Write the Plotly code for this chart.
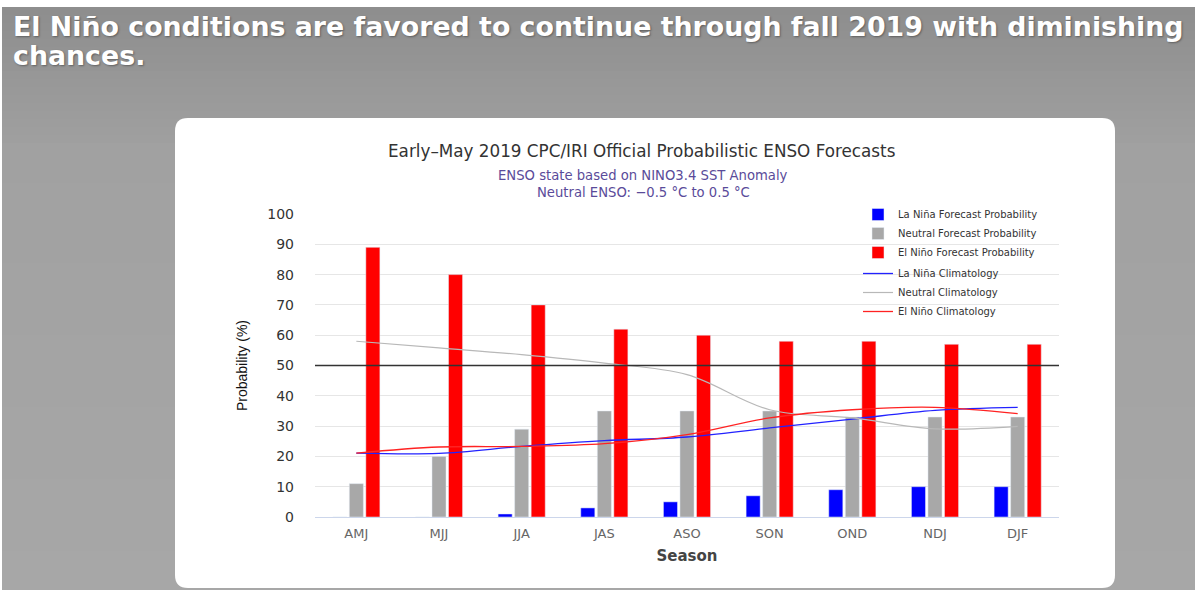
import plotly.graph_objects as go

# ---------------- data ----------------
seasons = ["AMJ", "MJJ", "JJA", "JAS", "ASO", "SON", "OND", "NDJ", "DJF"]
la_nina_prob = [0, 0, 1, 3, 5, 7, 9, 10, 10]
neutral_prob = [11, 20, 29, 35, 35, 35, 33, 33, 33]
el_nino_prob = [89, 80, 70, 62, 60, 58, 58, 57, 57]
la_nina_clim = [21.1, 21.0, 23.3, 25.2, 26.4, 29.4, 32.3, 35.2, 36.2]
neutral_clim = [58.0, 55.8, 53.6, 50.8, 47.0, 35.4, 32.7, 29.1, 29.9]
el_nino_clim = [21.1, 23.1, 23.3, 24.2, 27.2, 32.7, 35.4, 36.2, 34.1]
y_ticks = [0, 10, 20, 30, 40, 50, 60, 70, 80, 90, 100]
threshold = 50

# ---------------- geometry helpers (pixels -> paper) ----------------
W, H = 1195, 590
L, R, T, B = 315, 1059, 214, 517   # plot area in pixels


def px(x):
    return (x - L) / (R - L)


def py(y):
    return (B - y) / (B - T)


fig = go.Figure()

fig.add_trace(go.Bar(x=seasons, y=la_nina_prob, name="La Niña Forecast Probability",
                     marker_color="#0000ff", legendgroup="bars"))
fig.add_trace(go.Bar(x=seasons, y=neutral_prob, name="Neutral Forecast Probability",
                     marker_color="#a8a8a8", legendgroup="bars"))
fig.add_trace(go.Bar(x=seasons, y=el_nino_prob, name="El Niño Forecast Probability",
                     marker_color="#ff0000", legendgroup="bars"))
fig.add_trace(go.Scatter(x=seasons, y=la_nina_clim, name="La Niña Climatology", mode="lines",
                         line=dict(color="#2222ff", width=1.3, shape="spline"), legendgroup="lines"))
fig.add_trace(go.Scatter(x=seasons, y=neutral_clim, name="Neutral Climatology", mode="lines",
                         line=dict(color="#b8b8b8", width=1.2, shape="spline"), legendgroup="lines"))
fig.add_trace(go.Scatter(x=seasons, y=el_nino_clim, name="El Niño Climatology", mode="lines",
                         line=dict(color="#ff2222", width=1.3, shape="spline"), legendgroup="lines"))

shapes = []
# background gradient bands
def lerp(a, b, t):
    return a + (b - a) * t

stops = [(7, 141), (150, 161), (590, 167)]
y0 = 7
step = 8
while y0 < H:
    y1 = min(y0 + step, H)
    ym = (y0 + y1) / 2
    if ym <= stops[1][0]:
        t = (ym - stops[0][0]) / (stops[1][0] - stops[0][0])
        v = lerp(stops[0][1], stops[1][1], t)
    else:
        t = (ym - stops[1][0]) / (stops[2][0] - stops[1][0])
        v = lerp(stops[1][1], stops[2][1], t)
    v = int(round(v))
    shapes.append(dict(type="rect", xref="paper", yref="paper", layer="below",
                       x0=px(2), x1=px(W + 2), y0=py(y0), y1=py(y1 + 0.5),
                       line=dict(width=0), fillcolor=f"rgb({v},{v},{v})"))
    y0 = y1

# white rounded panel
x0p, x1p, y0p, y1p, r = 175, 1115, 118, 588, 13
path = (
    f"M {px(x0p + r)},{py(y0p)} L {px(x1p - r)},{py(y0p)} "
    f"Q {px(x1p)},{py(y0p)} {px(x1p)},{py(y0p + r)} "
    f"L {px(x1p)},{py(y1p - r)} Q {px(x1p)},{py(y1p)} {px(x1p - r)},{py(y1p)} "
    f"L {px(x0p + r)},{py(y1p)} Q {px(x0p)},{py(y1p)} {px(x0p)},{py(y1p - r)} "
    f"L {px(x0p)},{py(y0p + r)} Q {px(x0p)},{py(y0p)} {px(x0p + r)},{py(y0p)} Z"
)
shapes.append(dict(type="path", path=path, xref="paper", yref="paper", layer="below",
                   fillcolor="white", line=dict(width=0)))

# 50% reference line
shapes.append(dict(type="line", xref="paper", yref="y", x0=0, x1=1, y0=threshold, y1=threshold,
                   line=dict(color="#333333", width=1.5)))

head_font = dict(family="DejaVu Sans", size=26.8, color="white", weight="bold",
                 shadow="1px 1px 2px rgba(0,0,0,0.35)")
annotations = [
    dict(text="El Niño conditions are favored to continue through fall 2019 with diminishing",
         xref="paper", yref="paper", x=px(11), y=py(26), xanchor="left", yanchor="middle",
         showarrow=False, font=head_font),
    dict(text="chances.",
         xref="paper", yref="paper", x=px(11), y=py(55), xanchor="left", yanchor="middle",
         showarrow=False, font=head_font),
    dict(text="Early–May 2019 CPC/IRI Official Probabilistic ENSO Forecasts",
         xref="paper", yref="paper", x=px(641), y=py(151), xanchor="center", yanchor="middle",
         showarrow=False, font=dict(family="DejaVu Sans", size=16.8, color="#333333")),
    dict(text="ENSO state based on NINO3.4 SST Anomaly",
         xref="paper", yref="paper", x=px(643), y=py(175), xanchor="center", yanchor="middle",
         showarrow=False, font=dict(family="DejaVu Sans", size=13.2, color="#5a4b9a")),
    dict(text="Neutral ENSO: −0.5 °C to 0.5 °C",
         xref="paper", yref="paper", x=px(643), y=py(192), xanchor="center", yanchor="middle",
         showarrow=False, font=dict(family="DejaVu Sans", size=13.2, color="#5a4b9a")),
]

fig.update_layout(
    width=W, height=H,
    margin=dict(l=L, r=W - R, t=T, b=H - B, pad=0),
    paper_bgcolor="white", plot_bgcolor="rgba(0,0,0,0)",
    barmode="group", bargap=0.40, bargroupgap=0.15,
    shapes=shapes, annotations=annotations,
    font=dict(family="DejaVu Sans", color="#333333"),
    showlegend=True,
    legend=dict(x=px(858), y=py(200), xanchor="left", yanchor="top",
                bgcolor="rgba(0,0,0,0)", font=dict(family="DejaVu Sans", size=10, color="#333333"),
                traceorder="grouped", tracegroupgap=2, itemwidth=30),
)

fig.update_xaxes(
    type="category", range=[-0.5, len(seasons) - 0.5],
    showgrid=False, showline=True, linecolor="#ccd6eb", linewidth=1,
    ticks="", tickfont=dict(family="DejaVu Sans", size=13, color="#666666"),
    ticklabelstandoff=4,
    title=dict(text="Season", font=dict(family="DejaVu Sans", size=15, color="#444444", weight="bold"),
               standoff=10),
)
fig.update_yaxes(
    range=[0, 100], tickvals=y_ticks, showgrid=True, gridcolor="#e6e6e6", gridwidth=1,
    zeroline=False, showline=False, ticks="",
    tickfont=dict(family="DejaVu Sans", size=14, color="#333333"),
    ticklabelstandoff=20,
    title=dict(text="Probability (%)",
               font=dict(family="Liberation Sans Narrow, Liberation Sans", size=14, color="#111111"),
               standoff=16),
)

fig.write_html("out.html", config={"displayModeBar": False},
               post_script="document.body.style.margin='0px';")
